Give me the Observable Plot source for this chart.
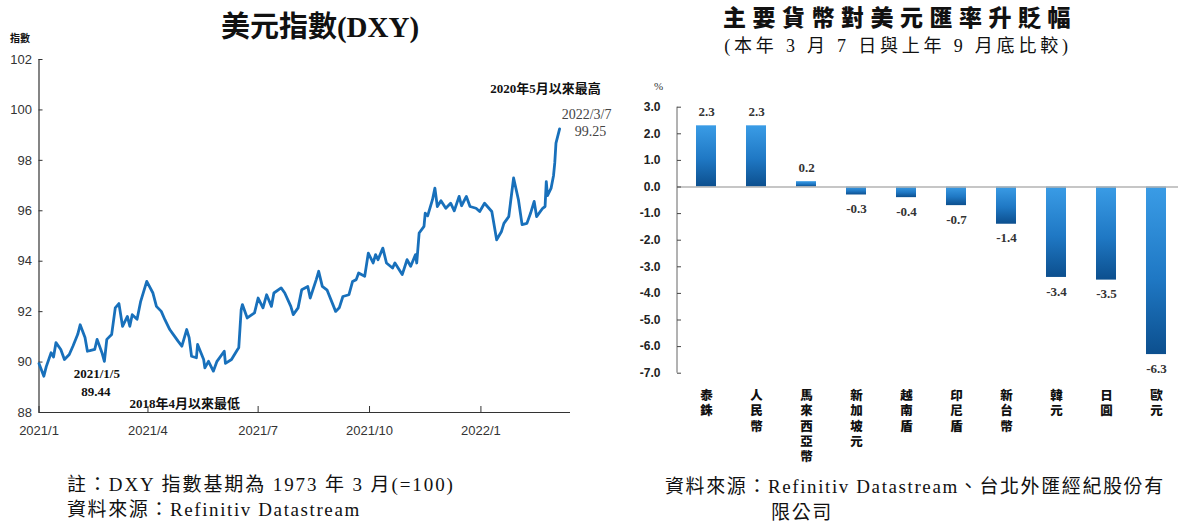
<!DOCTYPE html>
<html><head><meta charset="utf-8">
<script src="https://cdn.jsdelivr.net/npm/d3@7"></script>
<script src="https://cdn.jsdelivr.net/npm/@observablehq/plot@0.6"></script>
<style>
body{margin:0;background:#fff;}
#root{position:relative;width:1182px;height:525px;overflow:hidden;background:#fff;font-family:"Liberation Serif","Noto Sans CJK TC",serif;color:#111;}
.abs{position:absolute;white-space:nowrap;line-height:1.2;}
#left,#right{position:absolute;top:0;}
#left{left:0;z-index:2;}
#right{left:600px;z-index:1;}
</style></head><body><div id="root">
<div class="abs" style="left:320px;top:10px;transform:translateX(-50%);font-size:29px;font-weight:700;">美元指數(DXY)</div>
<div class="abs" style="left:10px;top:32px;font-size:10px;font-weight:700;font-family:'Noto Sans CJK TC';">指數</div>
<div class="abs" style="left:900px;top:4px;transform:translateX(-50%);font-size:23px;line-height:1.1;font-weight:900;letter-spacing:6.5px;font-family:'Noto Sans CJK TC';">主要貨幣對美元匯率升貶幅</div>
<div class="abs" style="left:898px;top:36px;transform:translateX(-50%);font-size:18px;letter-spacing:3.8px;">(本年 3 月 7 日與上年 9 月底比較)</div>
<div class="abs" style="left:654px;top:80px;font-size:11px;color:#333;">%</div>
<div class="abs" style="left:67px;top:474px;font-size:19px;letter-spacing:1.9px;">註：DXY 指數基期為 1973 年 3 月(=100)</div>
<div class="abs" style="left:67px;top:499px;font-size:19px;letter-spacing:1.6px;">資料來源：Refinitiv Datastream</div>
<div class="abs" style="left:665px;top:476px;font-size:19px;letter-spacing:1.6px;">資料來源：Refinitiv Datastream、台北外匯經紀股份有</div>
<div class="abs" style="left:802px;top:502px;transform:translateX(-50%);font-size:19px;letter-spacing:1.6px;">限公司</div>
<div id="left"></div>
<div id="right"></div>
</div>
<script>
// ---- Left chart: DXY daily index ----
const dxyDates = [
"2021-01-01","2021-01-05","2021-01-07","2021-01-11","2021-01-13","2021-01-15","2021-01-19","2021-01-22","2021-01-26","2021-01-29",
"2021-02-02","2021-02-04","2021-02-08","2021-02-10","2021-02-12","2021-02-16","2021-02-18","2021-02-22","2021-02-24","2021-02-26",
"2021-03-02","2021-03-05","2021-03-08","2021-03-11","2021-03-15","2021-03-17","2021-03-19","2021-03-23","2021-03-26","2021-03-31",
"2021-04-05","2021-04-08","2021-04-12","2021-04-15","2021-04-19","2021-04-22","2021-04-26","2021-04-29","2021-05-03","2021-05-05",
"2021-05-07","2021-05-11","2021-05-12","2021-05-17","2021-05-18","2021-05-21","2021-05-25","2021-05-28","2021-06-03","2021-06-04",
"2021-06-09","2021-06-14","2021-06-15","2021-06-17","2021-06-18","2021-06-22","2021-06-28","2021-07-01","2021-07-05","2021-07-08",
"2021-07-12","2021-07-14","2021-07-20","2021-07-23","2021-07-28","2021-07-30","2021-08-03","2021-08-06","2021-08-11","2021-08-13",
"2021-08-18","2021-08-20","2021-08-23","2021-08-27","2021-09-03","2021-09-06","2021-09-09","2021-09-14","2021-09-17","2021-09-20",
"2021-09-22","2021-09-27","2021-09-30","2021-10-04","2021-10-06","2021-10-08","2021-10-12","2021-10-15","2021-10-20","2021-10-22",
"2021-10-28","2021-11-01","2021-11-04","2021-11-08","2021-11-09","2021-11-11","2021-11-15","2021-11-16","2021-11-18","2021-11-22",
"2021-11-24","2021-11-26","2021-11-29","2021-12-03","2021-12-07","2021-12-10","2021-12-14","2021-12-16","2021-12-20","2021-12-23",
"2021-12-28","2021-12-31","2022-01-04","2022-01-10","2022-01-14","2022-01-18","2022-01-20","2022-01-24","2022-01-28","2022-02-01",
"2022-02-04","2022-02-08","2022-02-11","2022-02-14","2022-02-16","2022-02-21","2022-02-23","2022-02-24","2022-02-25","2022-02-28",
"2022-03-02","2022-03-03","2022-03-04","2022-03-07"
];
const dxyValues = [
89.94,89.44,89.82,90.37,90.20,90.77,90.50,90.10,90.30,90.63,
91.10,91.48,90.97,90.43,90.45,90.50,90.90,90.37,90.03,90.90,
91.09,92.15,92.32,91.42,91.81,91.42,91.88,91.70,92.41,93.20,
92.75,92.21,92.01,91.68,91.29,91.09,90.82,90.63,91.29,90.97,
90.23,90.17,90.70,90.10,89.77,90.03,89.64,90.03,90.43,89.95,
90.10,90.50,90.57,92.08,92.28,91.75,91.95,92.54,92.15,92.67,
92.21,92.74,92.94,92.74,92.21,91.88,92.15,92.87,93.00,92.54,
93.27,93.60,93.00,92.85,92.01,92.15,92.60,92.67,93.20,93.27,
93.53,93.40,94.32,93.93,94.26,94.06,94.52,93.93,93.73,93.93,
93.47,94.06,93.80,94.26,93.93,95.12,95.38,95.91,95.80,96.44,
96.90,96.17,96.40,96.10,96.30,96.00,96.57,96.20,96.57,96.17,
96.10,95.97,96.30,95.97,94.85,95.18,95.50,95.77,97.30,96.44,
95.45,95.50,95.90,96.37,95.77,96.10,96.17,97.16,96.60,96.90,
97.40,97.90,98.68,99.25
];
const dxyTicksY = [88, 90, 92, 94, 96, 98, 100, 102];
const dxyTicksX = ["2021-01-01", "2021-04-01", "2021-07-01", "2021-10-01", "2022-01-01"];
const dxyNotes = [
  {date: "2022-03-07", value: 99.25, text: "2020年5月以來最高", dx: -14, dy: -40, bold: true},
  {date: "2022-03-07", value: 99.25, text: "2022/3/7", dx: 27, dy: -14, bold: false},
  {date: "2022-03-07", value: 99.25, text: "99.25", dx: 31, dy: 3, bold: false},
  {date: "2021-01-05", value: 89.44, text: "2021/1/5", dx: 53, dy: -2, bold: true},
  {date: "2021-01-05", value: 89.44, text: "89.44", dx: 52, dy: 16, bold: true},
  {date: "2021-01-05", value: 89.44, text: "2018年4月以來最低", dx: 141, dy: 28, bold: true}
];

// ---- Right chart: currency change vs USD (%) ----
const currencies = ["泰銖","人民幣","馬來西亞幣","新加坡元","越南盾","印尼盾","新台幣","韓元","日圓","歐元"];
const changes = [2.3, 2.3, 0.2, -0.3, -0.4, -0.7, -1.4, -3.4, -3.5, -6.3];
const changeTicksY = [3, 2, 1, 0, -1, -2, -3, -4, -5, -6, -7];

const parse = s => new Date(s + "T00:00:00Z");
const dxy = dxyDates.map((d, i) => ({date: parse(d), value: dxyValues[i]}));
const notes = dxyNotes.map(n => ({...n, date: parse(n.date)}));
const xStart = parse("2021-01-01");
const xEnd = parse("2022-03-16");
const serif = "Liberation Serif, Noto Sans CJK TC, serif";
const narrow = "Liberation Sans Narrow, Liberation Sans, sans-serif";

const left = Plot.plot({
  width: 612, height: 445,
  marginLeft: 38.5, marginRight: 42, marginTop: 59, marginBottom: 33,
  style: {background: "transparent", overflow: "visible", color: "#222"},
  x: {type: "utc", domain: [xStart, xEnd]},
  y: {domain: [88, 102]},
  marks: [
    Plot.ruleY([88], {stroke: "#333", strokeWidth: 1.2}),
    Plot.ruleX([xStart], {y1: 88, y2: 102, stroke: "#333", strokeWidth: 1.2}),
    Plot.axisY(dxyTicksY, {tickSize: -4, tickPadding: 11, fontSize: 13, fontFamily: narrow, stroke: "#333", fill: "#333", label: null}),
    Plot.axisX(dxyTicksX.map(parse), {tickSize: -6, tickPadding: 19, fontSize: 13, fontFamily: narrow, stroke: "#333", fill: "#333", label: null,
      tickFormat: d => `${d.getUTCFullYear()}/${d.getUTCMonth() + 1}`}),
    Plot.line(dxy, {x: "date", y: "value", stroke: "#1870bb", strokeWidth: 2.8, strokeLinejoin: "round"}),
    ...notes.map(n => Plot.text([n], {x: "date", y: "value", text: "text", dx: n.dx, dy: n.dy,
      fontSize: n.bold ? 13 : 14, fontWeight: n.bold ? "bold" : "normal", fontFamily: serif, fill: n.bold ? "#111" : "#444"}))
  ]
});
document.getElementById("left").append(left);

const gradientDefs = () => {
  const ns = "http://www.w3.org/2000/svg";
  const defs = document.createElementNS(ns, "defs");
  const lg = document.createElementNS(ns, "linearGradient");
  lg.setAttribute("id", "barGrad");
  lg.setAttribute("x1", "0"); lg.setAttribute("y1", "0"); lg.setAttribute("x2", "0"); lg.setAttribute("y2", "1");
  [["0%", "#3a9ce6"], ["55%", "#1f78c4"], ["100%", "#0c4f8e"]].forEach(([o, c]) => {
    const s = document.createElementNS(ns, "stop");
    s.setAttribute("offset", o); s.setAttribute("stop-color", c); lg.appendChild(s);
  });
  defs.appendChild(lg);
  return defs;
};
const yAxisLine = (index, scales, values, dims) => {
  const ns = "http://www.w3.org/2000/svg";
  const l = document.createElementNS(ns, "line");
  const x0 = dims.marginLeft;
  l.setAttribute("x1", x0); l.setAttribute("x2", x0);
  l.setAttribute("y1", scales.y(3)); l.setAttribute("y2", scales.y(-7));
  l.setAttribute("stroke", "#666"); l.setAttribute("stroke-width", "1");
  return l;
};

const fx = currencies.map((c, i) => ({cur: c, val: changes[i]}));
const right = Plot.plot({
  width: 582, height: 470,
  marginLeft: 77, marginRight: 4, marginTop: 106.7, marginBottom: 97.3,
  style: {background: "transparent", overflow: "visible"},
  x: {type: "band", domain: currencies, paddingInner: 0.6, paddingOuter: 0.24, align: 0.6, axis: null},
  y: {domain: [-7, 3]},
  marks: [
    gradientDefs,
    Plot.barY(fx, {x: "cur", y: "val", fill: "url(#barGrad)"}),
    Plot.ruleY([0], {stroke: "#b3b3b3", strokeWidth: 1.6}),
    yAxisLine,
    Plot.axisY(changeTicksY, {tickSize: -4, tickPadding: 21, fontSize: 12, fontWeight: "bold", fontFamily: "Liberation Sans, Arial, sans-serif",
      stroke: "#444", fill: "#222", tickFormat: d => d.toFixed(1), label: null}),
    Plot.text(fx.filter(d => d.val > 0), {x: "cur", y: "val", text: d => d.val.toFixed(1), dy: -14,
      fontSize: 13, fontWeight: "bold", fontFamily: serif, fill: "#333"}),
    Plot.text(fx.filter(d => d.val < 0), {x: "cur", y: "val", text: d => d.val.toFixed(1), dy: 14,
      fontSize: 13, fontWeight: "bold", fontFamily: serif, fill: "#333"}),
    // category labels, written vertically (top-to-bottom) below the frame
    Plot.text(currencies, {x: d => d, frameAnchor: "bottom", textAnchor: "start", dy: 16, text: d => d,
      fontSize: 12.5, fontWeight: 900, fontFamily: "Noto Sans CJK TC", fill: "#111"})
  ]
});
// make the category texts vertical
right.querySelectorAll("text").forEach(t => {
  if (currencies.includes(t.textContent)) {
    t.style.writingMode = "vertical-rl";
    t.style.letterSpacing = "2.7px";
  }
});
document.getElementById("right").append(right);
</script>
</body></html>
